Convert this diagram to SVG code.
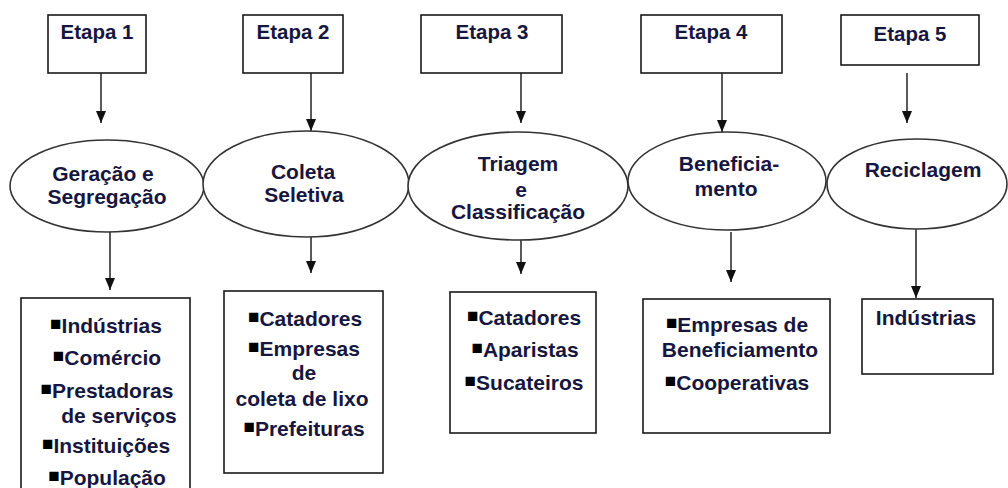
<svg xmlns="http://www.w3.org/2000/svg" width="1008" height="488" viewBox="0 0 1008 488">
<style>
.box{fill:#fff;stroke:#1a1a1a;stroke-width:1.6}
.ell{fill:#fff;stroke:#333;stroke-width:1.6}
.t{font-family:"Liberation Sans",Arial,sans-serif;font-weight:bold;font-size:20.5px;fill:#16163e;text-anchor:middle}
.e{font-family:"Liberation Sans",Arial,sans-serif;font-weight:bold;font-size:21px;fill:#16163e;text-anchor:middle}
.l{font-family:"Liberation Sans",Arial,sans-serif;font-weight:bold;font-size:21px;fill:#16163e;text-anchor:middle}
.b{font-size:19px;fill:#000}
.c{stroke:#222;stroke-width:1.5;fill:none;marker-end:url(#ah)}
</style>
<defs>
<marker id="ah" viewBox="0 0 12 10" refX="12" refY="5" markerWidth="12" markerHeight="10" markerUnits="userSpaceOnUse" orient="auto">
<path d="M0,0 L12,5 L0,10 Z" fill="#111"/>
</marker>
</defs>
<rect width="1008" height="488" fill="#fff"/>
<g id="connectors">
<line class="c" x1="101" y1="73" x2="101" y2="123"/>
<line class="c" x1="311" y1="73" x2="311" y2="131"/>
<line class="c" x1="521" y1="73" x2="521" y2="123"/>
<line class="c" x1="722" y1="73" x2="722" y2="132"/>
<line class="c" x1="907" y1="73" x2="907" y2="123"/>
<line class="c" x1="110" y1="232" x2="110" y2="290"/>
<line class="c" x1="311" y1="237" x2="311" y2="273"/>
<line class="c" x1="521" y1="240" x2="521" y2="274"/>
<line class="c" x1="731" y1="232" x2="731" y2="282"/>
<line class="c" x1="916" y1="229" x2="916" y2="298"/>
</g>
<g id="etapa1"><rect class="box" x="48" y="15" width="98" height="58"/><text class="t" x="97" y="39">Etapa 1</text></g>
<g id="etapa2"><rect class="box" x="243" y="15" width="100" height="58"/><text class="t" x="293" y="39">Etapa 2</text></g>
<g id="etapa3"><rect class="box" x="421" y="15" width="141" height="58"/><text class="t" x="492" y="39">Etapa 3</text></g>
<g id="etapa4"><rect class="box" x="641" y="15" width="141" height="58"/><text class="t" x="711" y="39">Etapa 4</text></g>
<g id="etapa5"><rect class="box" x="841" y="15" width="138" height="50"/><text class="t" x="910" y="41">Etapa 5</text></g>
<g id="geracao"><ellipse class="ell" cx="107" cy="186" rx="97" ry="46"/><text class="e" x="103" y="181">Geração e</text><text class="e" x="107" y="204">Segregação</text></g>
<g id="coleta"><ellipse class="ell" cx="306" cy="184" rx="103" ry="53"/><text class="e" x="303" y="179">Coleta</text><text class="e" x="304" y="202">Seletiva</text></g>
<g id="triagem"><ellipse class="ell" cx="518" cy="186" rx="110" ry="54"/><text class="e" x="518" y="171">Triagem</text><text class="e" x="521" y="197">e</text><text class="e" x="518" y="219">Classificação</text></g>
<g id="beneficiamento"><ellipse class="ell" cx="727" cy="181" rx="99" ry="49"/><text class="e" x="729" y="171">Beneficia-</text><text class="e" x="726" y="196">mento</text></g>
<g id="reciclagem"><ellipse class="ell" cx="917" cy="184" rx="90" ry="45"/><text class="e" x="923" y="177">Reciclagem</text></g>
<g id="lista1"><rect class="box" x="21" y="298" width="169" height="200"/>
<text class="l" x="106" y="333"><tspan class="b" dy="-3">■</tspan><tspan dy="3">Indústrias</tspan></text>
<text class="l" x="107" y="365"><tspan class="b" dy="-3">■</tspan><tspan dy="3">Comércio</tspan></text>
<text class="l" x="107" y="398"><tspan class="b" dy="-3">■</tspan><tspan dy="3">Prestadoras</tspan></text>
<text class="l" x="119" y="423">de serviços</text>
<text class="l" x="106" y="453"><tspan class="b" dy="-3">■</tspan><tspan dy="3">Instituições</tspan></text>
<text class="l" x="107" y="485"><tspan class="b" dy="-3">■</tspan><tspan dy="3">População</tspan></text>
</g>
<g id="lista2"><rect class="box" x="224" y="291" width="159" height="182"/>
<text class="l" x="305" y="326"><tspan class="b" dy="-3">■</tspan><tspan dy="3">Catadores</tspan></text>
<text class="l" x="304" y="356"><tspan class="b" dy="-3">■</tspan><tspan dy="3">Empresas</tspan></text>
<text class="l" x="304" y="380">de</text>
<text class="l" x="302" y="406">coleta de lixo</text>
<text class="l" x="304" y="436"><tspan class="b" dy="-3">■</tspan><tspan dy="3">Prefeituras</tspan></text>
</g>
<g id="lista3"><rect class="box" x="450" y="292" width="146" height="141"/>
<text class="l" x="524" y="325"><tspan class="b" dy="-3">■</tspan><tspan dy="3">Catadores</tspan></text>
<text class="l" x="525" y="357"><tspan class="b" dy="-3">■</tspan><tspan dy="3">Aparistas</tspan></text>
<text class="l" x="524" y="390"><tspan class="b" dy="-3">■</tspan><tspan dy="3">Sucateiros</tspan></text>
</g>
<g id="lista4"><rect class="box" x="643" y="299" width="187" height="134"/>
<text class="l" x="737" y="332"><tspan class="b" dy="-3">■</tspan><tspan dy="3">Empresas de</tspan></text>
<text class="l" x="740" y="357">Beneficiamento</text>
<text class="l" x="737" y="390"><tspan class="b" dy="-3">■</tspan><tspan dy="3">Cooperativas</tspan></text>
</g>
<g id="lista5"><rect class="box" x="862" y="299" width="131" height="75"/>
<text class="l" x="926" y="325">Indústrias</text>
</g>
</svg>
